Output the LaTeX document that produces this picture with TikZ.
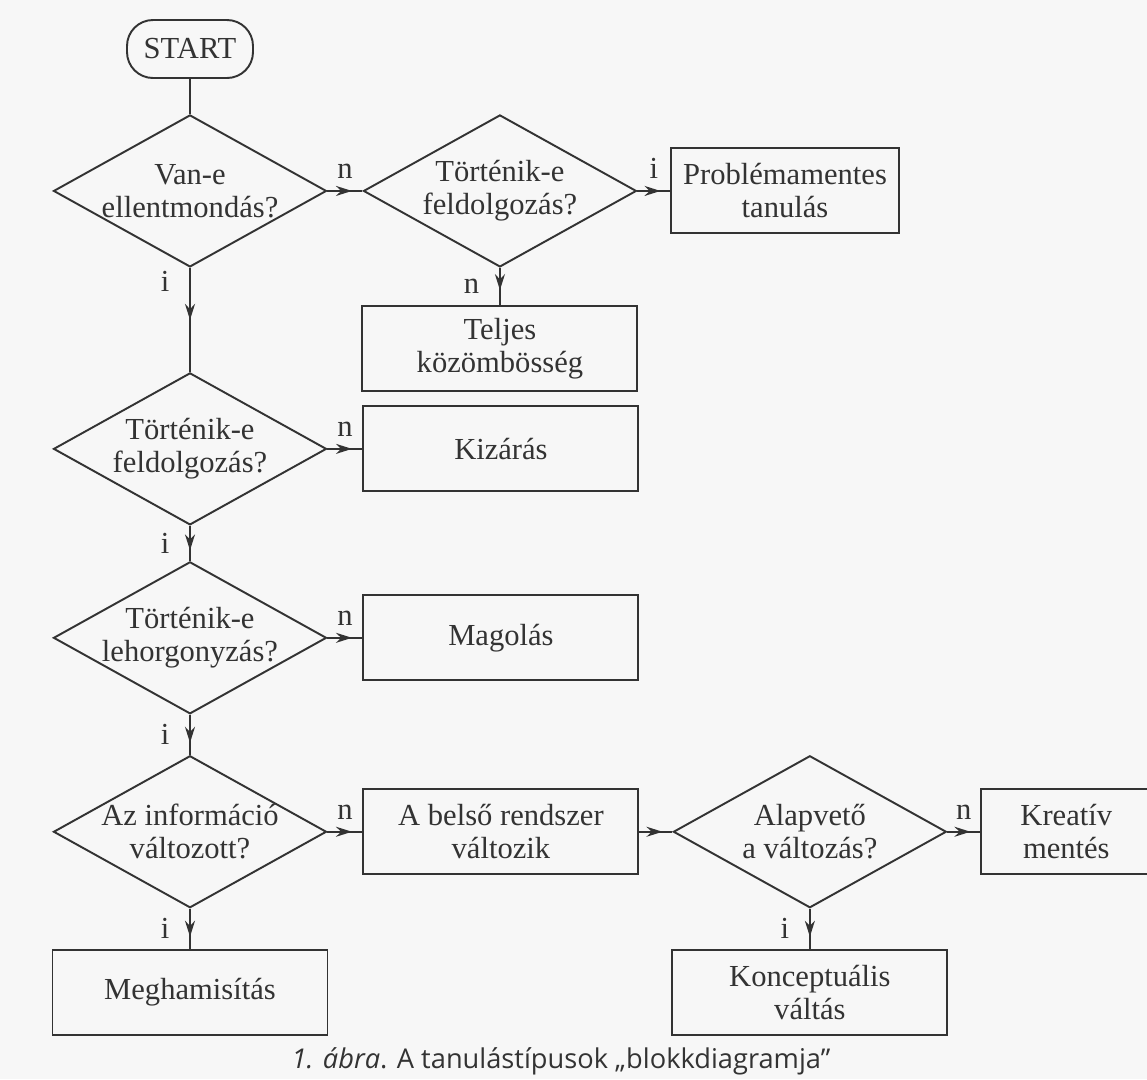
\documentclass[tikz,border=0pt]{standalone}
\usepackage{fontspec}
\setmainfont{Liberation Serif}
\newfontfamily\capfont{Open Sans}
\usepackage{tikz}
\usetikzlibrary{arrows.meta,positioning,shapes.geometric,decorations.markings}

\definecolor{ink}{gray}{0.2}
\definecolor{paper}{gray}{0.97}

\begin{document}
\begin{tikzpicture}[
    node distance=3.5mm and 3.5mm,
    line width=0.55pt,
    font=\fontsize{8.7}{9.4}\selectfont,
    every node/.style={text=ink},
    startbox/.style={
        draw=ink,
        rounded corners=2.6mm,
        minimum width=12.6mm,
        minimum height=5.8mm,
        inner sep=0pt
    },
    decision/.style={
        diamond,
        draw=ink,
        align=center,
        shape aspect=1.8,
        inner xsep=-4mm,
        inner ysep=0pt,
        minimum width=27.3mm,
        minimum height=15.2mm
    },
    outcome/.style={
        draw=ink,
        align=center,
        minimum width=27.5mm,
        minimum height=8.5mm
    },
    flow/.style={
        draw=ink,
        postaction={decorate},
        decoration={markings,
            mark=at position #1 with {\arrow[ink]{Stealth[length=1.6mm,width=1mm]}}}
    },
    flow/.default=0.7
]
\fill[paper] (0,0) rectangle (114.7mm,-107.9mm);
\useasboundingbox (0,0) rectangle (114.7mm,-107.9mm);

% left column
\node[startbox] (start) at (19mm,-4.9mm) {START};
\node[decision, below=of start] (d1) {Van-e\\ellentmondás?};
\node[decision, below=10.4mm of d1] (d3) {Történik-e\\feldolgozás?};
\node[decision, below=of d3] (d4) {Történik-e\\lehorgonyzás?};
\node[decision, below=4mm of d4] (d5) {Az információ\\változott?};
\node[outcome, below=4mm of d5] (megh) {Meghamisítás};

% upper branch
\node[decision, right=of d1] (d2) {Történik-e\\feldolgozás?};
\node[outcome, right=3.3mm of d2, minimum width=19mm] (prob) {Problémamentes\\tanulás};
\node[outcome, below=3.7mm of d2] (teljes) {Teljes\\közömbösség};

% side outcomes
\node[outcome, right=of d3] (kizaras) {Kizárás};
\node[outcome, right=of d4] (magolas) {Magolás};
\node[outcome, right=of d5] (belso) {A belső rendszer\\változik};
\node[decision, right=3.3mm of belso] (d6) {Alapvető\\a változás?};
\node[outcome, right=3.3mm of d6, minimum width=17mm] (kreativ) {Kreatív\\mentés};
\node[outcome, below=4mm of d6] (konc) {Konceptuális\\váltás};

\node[font=\capfont\fontsize{7.75}{9.3}\selectfont] (caption) at (56.1mm,-106.1mm)
    {\textit{1. ábra}. A tanulástípusok „blokkdiagramja”};

\draw[ink] (start) -- (d1);
\draw[flow] (d1) -- node[above] {n} (d2);
\draw[flow] (d2) -- node[above] {i} (prob);
\draw[flow=0.6] (d2) -- node[left=0.8mm] {n} (teljes);
\draw[flow=0.5] (d1) -- node[pos=0.13, left=0.8mm] {i} (d3);
\draw[flow] (d3) -- node[above] {n} (kizaras);
\draw[flow] (d3) -- node[left=0.8mm] {i} (d4);
\draw[flow] (d4) -- node[above] {n} (magolas);
\draw[flow] (d4) -- node[left=0.8mm] {i} (d5);
\draw[flow] (d5) -- node[above] {n} (belso);
\draw[flow] (d5) -- node[left=0.8mm] {i} (megh);
\draw[flow] (belso) -- (d6);
\draw[flow] (d6) -- node[above] {n} (kreativ);
\draw[flow] (d6) -- node[left=0.8mm] {i} (konc);
\end{tikzpicture}
\end{document}
